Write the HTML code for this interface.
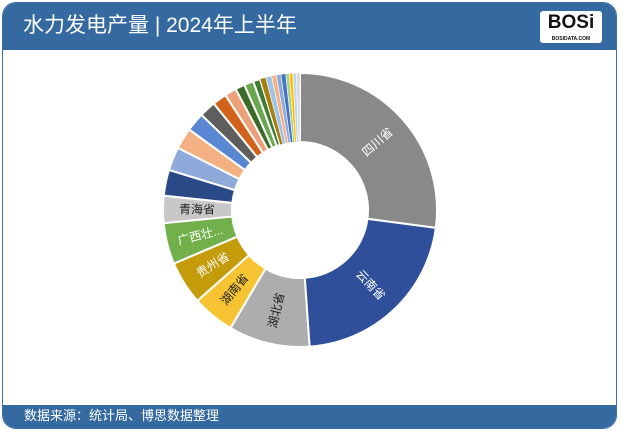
<!DOCTYPE html>
<html><head><meta charset="utf-8"><style>
html,body{margin:0;padding:0;background:#fff;}
#w{position:relative;width:621px;height:433px;overflow:hidden;font-family:"Liberation Sans","Noto Sans CJK SC",sans-serif;}
#frame{position:absolute;left:2px;top:2px;width:615px;height:427px;border:1px solid #3a6ea5;border-radius:14px;box-sizing:border-box;overflow:hidden;background:#fff;}
#hd{position:absolute;left:0;top:0;width:100%;height:47px;background:#346aa0;color:#fff;font-size:21px;line-height:45px;padding-left:20px;box-sizing:border-box;}
#ft{position:absolute;left:0;bottom:0;width:100%;height:23px;background:#346aa0;color:#fff;font-size:13px;line-height:22px;padding-left:21px;box-sizing:border-box;}
#logo{position:absolute;right:14px;top:8px;width:62px;height:32px;background:#fff;border-radius:3px;color:#111;font-weight:bold;font-size:19px;text-align:center;line-height:24px;font-family:"Liberation Sans",sans-serif;}
#logo small{position:absolute;left:0;right:0;bottom:1px;font-size:5px;line-height:6px;}
svg{position:absolute;left:0;top:0;}
</style></head><body><div id="w"><div id="frame">
<div id="hd">水力发电产量 | 2024年上半年<div id="logo">BOSi<small>BOSIDATA.COM</small></div></div>
<div id="ft">数据来源：统计局、博思数据整理</div>
</div>
<svg id="s" width="621" height="433"></svg>
</div>
<script>
var cx=300,cy=210,R=137,r=68;
var sl=[[0,97.5,'#898989','四川省','#fff'],[97.5,176,'#2f4f9a','云南省','#fff'],[176,210.5,'#adadad','湖北省','#222'],[210.5,228.5,'#f6c432','湖南省','#222'],[228.5,247,'#c49b0b','贵州省','#fff'],[247,264.5,'#72b04c','广西壮...','#fff'],[264.5,276,'#c8c8c8','青海省','#222'],
[276,287,'#294a86'],[287,297,'#8eaadb'],[297,306,'#f3b183'],[306,314,'#5a87d3'],[314,321,'#5e5e5e'],[321,327,'#d0621c'],[327,332,'#eca079'],[332,336,'#3c6b29'],[336,340,'#6aa84f'],[340,343,'#3f7a30'],[343,345.5,'#a77d10'],[345.5,348,'#9dc3e6'],[348,350,'#f4b183'],[350,352,'#8eaadb'],[352,354,'#4472c4'],[354,355.5,'#a9d18e'],[355.5,357,'#ffc000'],[357,358.5,'#bdd7ee'],[358.5,360,'#d9d9d9']];
var s='';
function pt(a,rad){a=a*Math.PI/180;return [cx+rad*Math.sin(a),cy-rad*Math.cos(a)];}
sl.forEach(function(d){var a0=d[0],a1=d[1],L=(a1-a0>180)?1:0;
var p1=pt(a0,R),p2=pt(a1,R),p3=pt(a1,r),p4=pt(a0,r);
s+='<path d="M'+p1+' A'+R+','+R+' 0 '+L+' 1 '+p2+' L'+p3+' A'+r+','+r+' 0 '+L+' 0 '+p4+'Z" fill="'+d[2]+'" stroke="#fff" stroke-width="'+((a1-a0)<3?0.6:2)+'"/>';
if(d[3]){var m=(a0+a1)/2,p=pt(m,103),rot=m<180?m-90:m-270;
s+='<text x="'+p[0]+'" y="'+p[1]+'" fill="'+d[4]+'" font-size="12" text-anchor="middle" dominant-baseline="central" transform="rotate('+rot+' '+p[0]+' '+p[1]+')">'+d[3]+'</text>';}});
document.getElementById('s').innerHTML=s;
</script></body></html>
